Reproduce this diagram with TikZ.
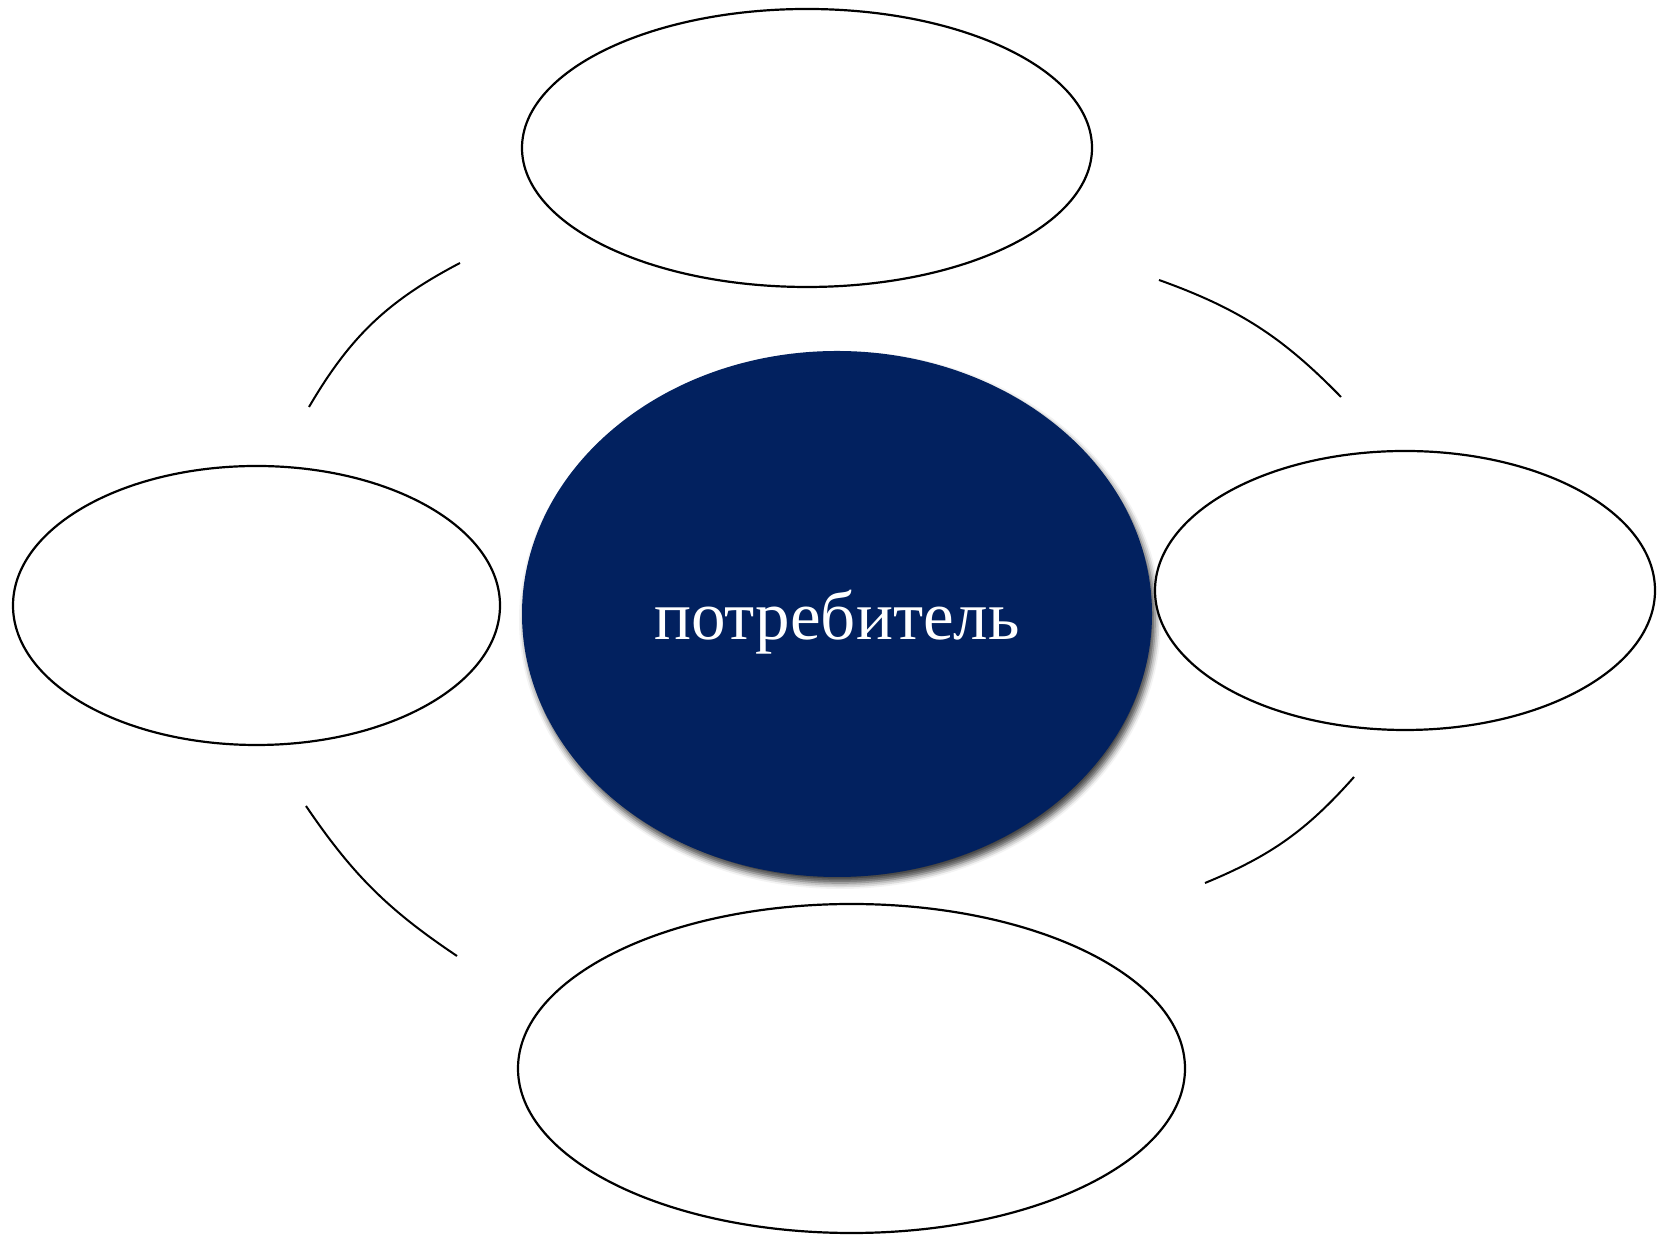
\documentclass[tikz,border=0pt]{standalone}
\usepackage{fontspec}
\setmainfont{Liberation Serif}
\usetikzlibrary{shapes.geometric,shadows.blur}
\definecolor{navy}{HTML}{02215F}
\definecolor{ink}{HTML}{000000}
\tikzset{bubble/.style={draw=ink,line width=1.1pt,ellipse,fill=white,inner sep=0pt},hub/.style={ellipse,fill=navy,inner sep=0pt,text=white,font=\fontsize{34.5}{40}\selectfont,text height=33.5pt,text depth=7.5pt,blur shadow={shadow xshift=1.5pt,shadow yshift=-3pt,shadow blur radius=3pt,shadow opacity=75}},ring/.style={draw=ink,line width=1pt}}

\begin{document}
\begin{tikzpicture}[x=0.5pt,y=0.5pt]
\useasboundingbox (0,0) rectangle (1669,1235);
\node[hub,minimum width=315pt,minimum height=263pt] (consumer) at (837,621) {потребитель};
\node[bubble,minimum width=285pt,minimum height=139pt] (top) at (807,1087) {};
\node[bubble,minimum width=243.5pt,minimum height=139.5pt] (left) at (256.5,629.5) {};
\node[bubble,minimum width=250pt,minimum height=139.5pt] (right) at (1405,644.5) {};
\node[bubble,minimum width=333.5pt,minimum height=164.5pt] (bottom) at (851.5,166.5) {};
\foreach \n/\sx/\sy/\ex/\ey/\b in {tl/460/972/309/828/16,bl/306/429/457/279/11,br/1205/352/1354/458/13,tr/1341/838/1159/955/13}{
  \coordinate (\n-s) at (\sx,\sy);
  \coordinate (\n-e) at (\ex,\ey);
  \draw[ring] (\n-s) to[bend right=\b] (\n-e);
}
\end{tikzpicture}
\end{document}
